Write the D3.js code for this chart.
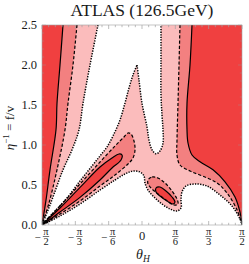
<!DOCTYPE html>
<html><head><meta charset="utf-8">
<script src="https://cdn.jsdelivr.net/npm/d3@7"></script>
<style>
html,body{margin:0;padding:0;background:#fff;}
svg{display:block;}
text{font-family:"Liberation Serif","Times New Roman",serif;fill:#1a1a1a;}
</style>
</head><body>
<svg id="c" width="249" height="264"></svg>
<script>
// ---- data: theta_H in degrees (-90..90), eta^-1 = f/v ----
const title = "ATLAS (126.5GeV)";
const xTickValues = [-90, -60, -30, 0, 30, 60, 90];
const xTickLabels = ["-π/2", "-π/3", "-π/6", "0", "π/6", "π/3", "π/2"];
const yTickValues = [0, 0.5, 1.0, 1.5, 2.0, 2.5];
const yTickLabels = ["0.0", "0.5", "1.0", "1.5", "2.0", "2.5"];

// solid contour (outer exclusion boundary)
const solidLeft = [[-71.1,2.5],[-73.8,2.0],[-76.5,1.52],[-77.4,1.19],[-82.8,0.69],[-86.4,0.31],[-90,0]];
const solidRight = [[45,2.5],[43.2,2.0],[40.5,1.52],[40.5,1.19],[41.4,1.025],[45,0.875],[52.2,0.79],[63.9,0.69],[74.7,0.54],[83.7,0.35],[88.2,0.16],[90,0]];
// dashed contour
const dashedLeft = [[-58.5,2.5],[-62.1,2.0],[-66.6,1.52],[-69.3,1.19],[-76.5,0.69],[-83.7,0.275],[-90,0]];
const dashedRight = [[34.2,2.5],[33.3,2.0],[32.4,1.52],[31.5,1.06],[31.5,0.875],[34.2,0.75],[43.2,0.675],[54.9,0.61],[67.5,0.525],[76.5,0.4],[85.5,0.19],[90,0]];
// dotted contour
const dottedLeft = [[-39.6,2.5],[-46.8,2.0],[-53.1,1.52],[-56.7,1.19],[-63,0.94],[-71.1,0.69],[-82.8,0.25],[-90,0]];
const dottedDiagonal = [[-90,0],[-78.3,0.175],[-67.5,0.3375],[-55.8,0.55],[-45,0.7375],[-37.8,0.8625],[-31.5,0.975],[-26.1,1.1125],[-19.8,1.3125],[-15.3,1.525],[-11.7,1.7125],[-8.1,1.875],[-4.5,2.0]];
const dottedSpike = [[-4.5,2.0],[-2.7,1.81],[0,1.52],[4.5,1.225],[6.3,1.06],[9,0.94],[12.6,0.89],[16.2,0.925],[18.9,1.025],[18.9,1.19],[18,1.375],[17.1,1.625],[17.1,2.06],[17.1,2.5]];
const dottedBottom = [[-90,0],[-73.8,0.1125],[-55.8,0.2625],[-37.8,0.4375],[-24.3,0.5625],[-15.3,0.6375],[-8.1,0.675],[-1.8,0.6625],[1.8,0.6125],[2.7,0.525],[5.4,0.4375],[10.8,0.35],[18,0.2625],[25.2,0.2],[31.5,0.175],[35.1,0.2125],[35.1,0.3125],[36,0.4125],[39.6,0.4875],[47.7,0.5125],[58.5,0.4875],[70.2,0.375],[81,0.2375],[88.2,0.075],[90,0]];
// diagonal wedge (dashed outline, solid inner)
const wedgeDashed = [[-90,0],[-73.8,0.2375],[-55.8,0.5125],[-37.8,0.7875],[-24.3,0.9875],[-16.2,1.1],[-12.6,1.15],[-9.9,1.1375],[-7.2,1.05],[-6.3,0.9375],[-8.1,0.8375],[-12.6,0.7625],[-24.3,0.625],[-37.8,0.4875],[-55.8,0.3],[-73.8,0.1375]];
const wedgeSolid = [[-90,0],[-73.8,0.2125],[-55.8,0.47],[-37.8,0.725],[-27,0.8375],[-20.7,0.8875],[-18,0.875],[-18.9,0.8125],[-27,0.7125],[-37.8,0.5625],[-55.8,0.345],[-73.8,0.1625]];
// small island near pi/6
const islandDashed = [[5.4,0.5625],[9,0.6],[14.4,0.5875],[20.7,0.525],[27,0.425],[31.5,0.325],[32.4,0.2625],[28.8,0.25],[21.6,0.3125],[14.4,0.3875],[8.1,0.4625],[5.4,0.5125]];
const islandSolid = [[12.6,0.4625],[16.2,0.475],[21.6,0.425],[27,0.35],[29.7,0.2875],[27.9,0.2625],[22.5,0.3],[16.2,0.3625],[12.6,0.4125]];

// ---- colours ----
const cBright = "#f04040", cMedium = "#f38080", cLight = "#fbbcbc";

const svg = d3.select("#c");
const x = d3.scaleLinear().domain([-90, 90]).range([42, 242]);
const y = d3.scaleLinear().domain([0, 2.5]).range([225, 25]);

const line = d3.line().x(d => x(d[0])).y(d => y(d[1])).curve(d3.curveCatmullRom.alpha(0.5));
const closed = d3.line().x(d => x(d[0])).y(d => y(d[1])).curve(d3.curveCatmullRomClosed.alpha(0.5));
function chain(...segs) {
  return segs.map((s, i) => i ? line(s).replace(/^M/, "L") : line(s)).join("") + "Z";
}

svg.append("defs").append("clipPath").attr("id", "clip")
  .append("rect").attr("x", x(-90)).attr("y", y(2.5))
  .attr("width", x(90) - x(-90)).attr("height", y(0) - y(2.5));

const g = svg.append("g").attr("clip-path", "url(#clip)");
g.append("rect").attr("x", x(-90)).attr("y", y(2.5))
  .attr("width", x(90) - x(-90)).attr("height", y(0) - y(2.5)).attr("fill", cBright);
g.append("path").attr("d", chain(solidLeft, solidRight.slice().reverse())).attr("fill", cMedium);
g.append("path").attr("d", chain(dashedLeft, dashedRight.slice().reverse())).attr("fill", cLight);
g.append("path").attr("d", chain(dottedLeft, dottedDiagonal, dottedSpike)).attr("fill", "#fff");
g.append("path").attr("d", chain(dottedBottom)).attr("fill", "#fff");
g.append("path").attr("d", closed(wedgeDashed)).attr("fill", cMedium);
g.append("path").attr("d", closed(wedgeSolid)).attr("fill", cBright);
g.append("path").attr("d", closed(islandDashed)).attr("fill", cMedium);
g.append("path").attr("d", closed(islandSolid)).attr("fill", cBright);

const solidStyle = p => p.attr("fill", "none").attr("stroke", "#000").attr("stroke-width", 1.2);
const dashStyle = p => p.attr("fill", "none").attr("stroke", "#000").attr("stroke-width", 1.2).attr("stroke-dasharray", "3.2,2");
const dotStyle = p => p.attr("fill", "none").attr("stroke", "#000").attr("stroke-width", 1.5).attr("stroke-dasharray", "1.3,1.3");

[solidLeft, solidRight].forEach(s => g.append("path").attr("d", line(s)).call(solidStyle));
[wedgeSolid, islandSolid].forEach(s => g.append("path").attr("d", closed(s)).call(solidStyle));
[dashedLeft, dashedRight].forEach(s => g.append("path").attr("d", line(s)).call(dashStyle));
[wedgeDashed, islandDashed].forEach(s => g.append("path").attr("d", closed(s)).call(dashStyle));
[dottedLeft, dottedDiagonal, dottedSpike, dottedBottom].forEach(s => g.append("path").attr("d", line(s)).call(dotStyle));

// ---- frame & ticks ----
const tickCol = "#a0a0a0";
const ax = svg.append("g");
ax.append("rect").attr("x", x(-90)).attr("y", y(2.5)).attr("width", x(90) - x(-90)).attr("height", y(0) - y(2.5))
  .attr("fill", "none").attr("stroke", tickCol).attr("stroke-width", 0.6);
const xMinor = d3.range(-90, 90.1, 6);
xMinor.forEach(v => {
  const major = xTickValues.includes(v);
  const L = major ? 4 : 2.2;
  ax.append("line").attr("x1", x(v)).attr("x2", x(v)).attr("y1", y(0)).attr("y2", y(0) - L).attr("stroke", tickCol).attr("stroke-width", 0.7);
  ax.append("line").attr("x1", x(v)).attr("x2", x(v)).attr("y1", y(2.5)).attr("y2", y(2.5) + L).attr("stroke", tickCol).attr("stroke-width", 0.7);
});
const yMinor = d3.range(0, 2.501, 0.1);
yMinor.forEach(v => {
  const major = Math.abs(v * 2 - Math.round(v * 2)) < 1e-6;
  const L = major ? 4 : 2.2;
  ax.append("line").attr("x1", x(-90)).attr("x2", x(-90) + L).attr("y1", y(v)).attr("y2", y(v)).attr("stroke", tickCol).attr("stroke-width", 0.6).attr("opacity", 0.6);
  ax.append("line").attr("x1", x(90)).attr("x2", x(90) - L).attr("y1", y(v)).attr("y2", y(v)).attr("stroke", tickCol).attr("stroke-width", 0.6).attr("opacity", 0.6);
});

// y tick labels
yTickValues.forEach((v, i) => {
  ax.append("text").attr("x", 37).attr("y", y(v) + 4.2).attr("text-anchor", "end")
    .attr("font-size", 12.5).text(yTickLabels[i]);
});

// x tick labels (stacked fractions)
xTickValues.forEach((v, i) => {
  const lab = xTickLabels[i];
  const cx = x(v);
  if (!lab.includes("/")) {
    ax.append("text").attr("x", cx).attr("y", 240).attr("text-anchor", "middle").attr("font-size", 12.5).text(lab);
    return;
  }
  const neg = lab.startsWith("-");
  const [num, den] = lab.replace("-", "").split("/");
  const fx = neg ? cx + 4 : cx;
  if (neg) ax.append("text").attr("x", cx - 4.5).attr("y", 241).attr("text-anchor", "middle").attr("font-size", 11).text("−");
  ax.append("text").attr("x", fx).attr("y", 234.5).attr("text-anchor", "middle").attr("font-size", 10.5).text(num);
  ax.append("line").attr("x1", fx - 3.2).attr("x2", fx + 3.2).attr("y1", 236.5).attr("y2", 236.5).attr("stroke", "#1a1a1a").attr("stroke-width", 0.6);
  ax.append("text").attr("x", fx).attr("y", 245).attr("text-anchor", "middle").attr("font-size", 10.5).text(den);
});

// axis titles
const xl = ax.append("text").attr("x", 143).attr("y", 259).attr("text-anchor", "middle").attr("font-size", 14);
xl.append("tspan").attr("font-style", "italic").text("θ");
xl.append("tspan").attr("font-style", "italic").attr("font-size", 9.5).attr("dy", 2.5).text("H");

const yl = ax.append("text").attr("transform", "translate(14,128) rotate(-90)").attr("text-anchor", "middle").attr("font-size", 13);
yl.append("tspan").attr("font-style", "italic").text("η");
yl.append("tspan").attr("font-size", 9).attr("dy", -5).text("−1");
yl.append("tspan").attr("dy", 5).text(" = f/v");

svg.append("text").attr("x", 142).attr("y", 16).attr("text-anchor", "middle").attr("font-size", 17.5).text(title);
</script>
</body></html>
